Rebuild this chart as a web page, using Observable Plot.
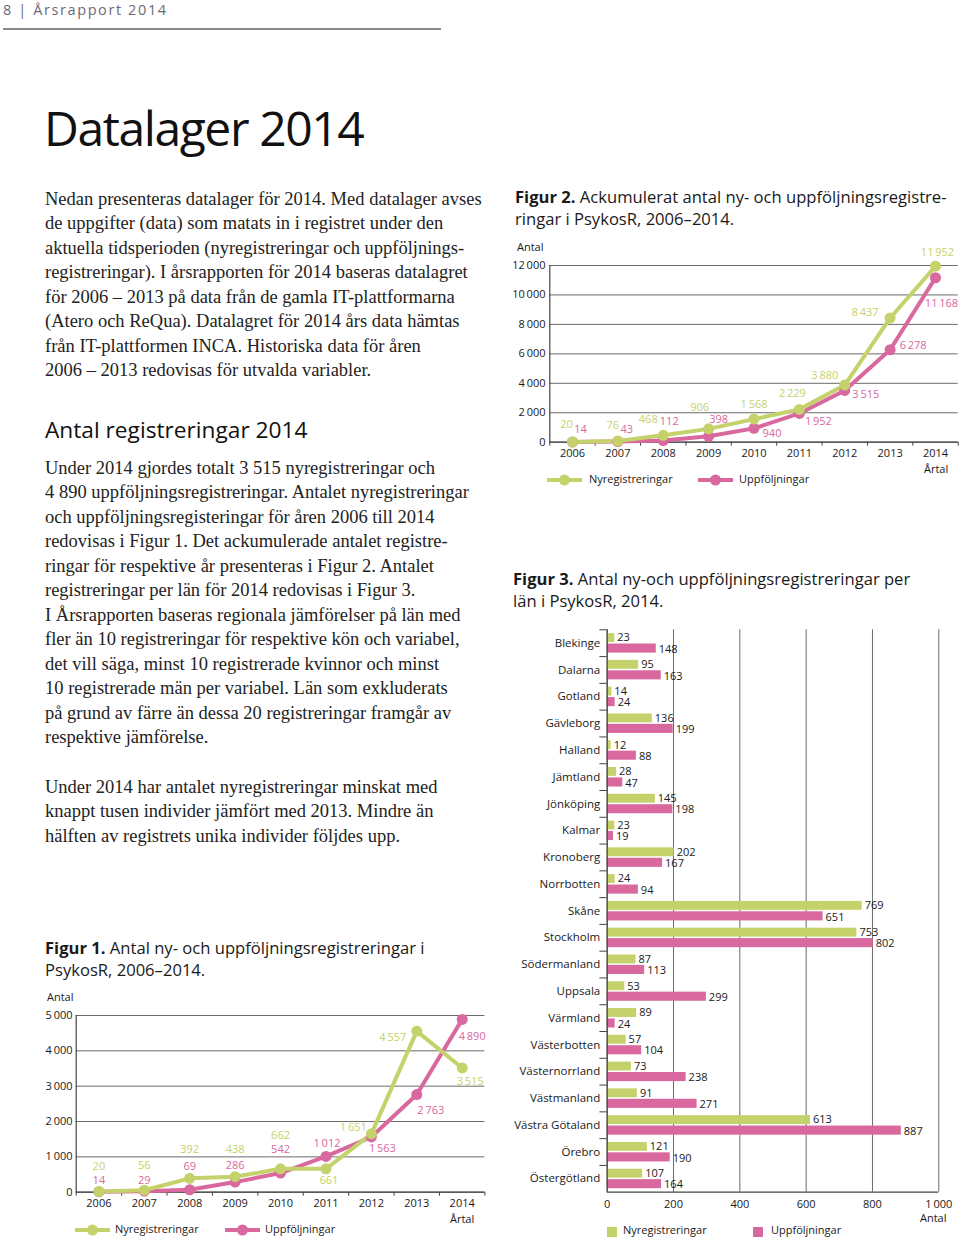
<!DOCTYPE html>
<html><head><meta charset="utf-8">
<script src="https://cdn.jsdelivr.net/npm/d3@7"></script>
<script src="https://cdn.jsdelivr.net/npm/@observablehq/plot@0.6"></script>
<style>
body{margin:0;background:#fff;}
#page{position:relative;width:960px;height:1243px;overflow:hidden;background:#fff;font-family:"Open Sans",sans-serif;color:#1a1a1a;}
.abs{position:absolute;white-space:nowrap;}
.serif{font-family:"Liberation Serif",serif;font-size:18.5px;line-height:24.45px;color:#222;}
.ftitle{font-size:16.6px;line-height:21.5px;color:#1a1a1a;}
.lab{font-size:11px;line-height:14px;color:#1a1a1a;}
.chart{position:absolute;}
.chart svg{display:block;overflow:visible;}
</style></head>
<body><div id="page">
<div class="abs" style="left:3px;top:0px;font-size:14.5px;line-height:20px;letter-spacing:1.6px;color:#6b6b78">8 | Årsrapport 2014</div>
<div class="abs" style="left:3px;top:28px;width:438px;height:1.6px;background:#8a8a8a"></div>
<div class="abs" style="left:44px;top:104px;font-size:48px;line-height:48px;letter-spacing:-1.4px;color:#111">Datalager 2014</div>

<div class="abs serif" style="left:45px;top:187px">Nedan presenteras datalager för 2014. Med datalager avses<br>de uppgifter (data) som matats in i registret under den<br>aktuella tidsperioden (nyregistreringar och uppföljnings-<br>registreringar). I årsrapporten för 2014 baseras datalagret<br>för 2006 – 2013 på data från de gamla IT-plattformarna<br>(Atero och ReQua). Datalagret för 2014 års data hämtas<br>från IT-plattformen INCA. Historiska data för åren<br>2006 – 2013 redovisas för utvalda variabler.</div>

<div class="abs" style="left:45px;top:415px;font-size:22.7px;line-height:30px;color:#111">Antal registreringar 2014</div>

<div class="abs serif" style="left:45px;top:456px">Under 2014 gjordes totalt 3 515 nyregistreringar och<br>4 890 uppföljningsregistreringar. Antalet nyregistreringar<br>och uppföljningsregisteringar för åren 2006 till 2014<br>redovisas i Figur 1. Det ackumulerade antalet registre-<br>ringar för respektive år presenteras i Figur 2. Antalet<br>registreringar per län för 2014 redovisas i Figur 3.<br>I Årsrapporten baseras regionala jämförelser på län med<br>fler än 10 registreringar för respektive kön och variabel,<br>det vill säga, minst 10 registrerade kvinnor och minst<br>10 registrerade män per variabel. Län som exkluderats<br>på grund av färre än dessa 20 registreringar framgår av<br>respektive jämförelse.</div>

<div class="abs serif" style="left:45px;top:775px">Under 2014 har antalet nyregistreringar minskat med<br>knappt tusen individer jämfört med 2013. Mindre än<br>hälften av registrets unika individer följdes upp.</div>

<!-- Figure titles -->
<div class="abs ftitle" style="left:45px;top:937px"><b>Figur 1.</b> Antal ny- och uppföljningsregistreringar i<br>PsykosR, 2006–2014.</div>
<div class="abs ftitle" style="left:515px;top:186px"><b>Figur 2.</b> Ackumulerat antal ny- och uppföljningsregistre-<br>ringar i PsykosR, 2006–2014.</div>
<div class="abs ftitle" style="left:513px;top:568px"><b>Figur 3.</b> Antal ny-och uppföljningsregistreringar per<br>län i PsykosR, 2014.</div>

<!-- axis titles -->
<div class="abs lab" style="left:47px;top:990px">Antal</div>
<div class="abs lab" style="left:450px;top:1212px">Årtal</div>
<div class="abs lab" style="left:517px;top:240px">Antal</div>
<div class="abs lab" style="left:924px;top:462px">Årtal</div>
<div class="abs lab" style="left:920px;top:1211px">Antal</div>

<div id="fig1" class="chart" style="left:40px;top:990px"></div>
<div id="fig2" class="chart" style="left:500px;top:240px"></div>
<div id="fig3" class="chart" style="left:505px;top:625px"></div>
<div id="legends"></div>
</div>
<script>
// ---------- data ----------
const years = [2006, 2007, 2008, 2009, 2010, 2011, 2012, 2013, 2014];
const series = ["Nyregistreringar", "Uppföljningar"];

// Figur 1: antal per år
const nyreg1 = [20, 56, 392, 438, 662, 661, 1651, 4557, 3515];
const uppf1  = [14, 29, 69, 286, 542, 1012, 1563, 2763, 4890];
const yTicks1 = [0, 1000, 2000, 3000, 4000, 5000];

// Figur 2: ackumulerat
const nyreg2 = [20, 76, 468, 906, 1568, 2229, 3880, 8437, 11952];
const uppf2  = [14, 43, 112, 398, 940, 1952, 3515, 6278, 11168];
const yTicks2 = [0, 2000, 4000, 6000, 8000, 10000, 12000];

// Figur 3: per län 2014
const regions = ["Blekinge", "Dalarna", "Gotland", "Gävleborg", "Halland", "Jämtland", "Jönköping", "Kalmar", "Kronoberg", "Norrbotten", "Skåne", "Stockholm", "Södermanland", "Uppsala", "Värmland", "Västerbotten", "Västernorrland", "Västmanland", "Västra Götaland", "Örebro", "Östergötland"];
const nyreg3 = [23, 95, 14, 136, 12, 28, 145, 23, 202, 24, 769, 753, 87, 53, 89, 57, 73, 91, 613, 121, 107];
const uppf3  = [148, 163, 24, 199, 88, 47, 198, 19, 167, 94, 651, 802, 113, 299, 24, 104, 238, 271, 887, 190, 164];
const xTicks3 = [0, 200, 400, 600, 800, 1000];

// ---------- styles ----------
const GREEN = "#c5d26b";
const PINK = "#d8689e";
const GRID = "#6b6b6b";
// value-label offsets (dx, dy) in pixels, per year
const off1 = {
  g: [[0,-25],[0,-25],[0,-29],[0,-27],[0,-33],[3,12],[-18,-6],[-24,6],[8,13]],
  p: [[0,-11],[0,-11],[0,-23],[0,-17],[0,-24],[1,-13],[11,12],[14,16],[10,17]]
};
const off2 = {
  g: [[-6,-17],[-5,-16],[-15,-16],[-9,-21],[0,-15],[-7,-16],[-20,-10],[-25,-5],[2,-14]],
  p: [[8,-13],[9,-12],[6,-19],[10,-17],[18,5],[19,8],[21,4],[23,-4],[6,26]]
};

const fmt = d => d3.format(",")(d).replace(/,/g, "\u2009");
const font = {fontFamily: "'Open Sans', sans-serif", fontSize: "11px", color: "#1a1a1a", background: "transparent", overflow: "visible"};

function lineChart(el, ny, up, yTicks, off, dims) {
  const data = [];
  years.forEach((yr, i) => data.push({year: yr, value: up[i], s: series[1], dx: off.p[i][0], dy: off.p[i][1]}));
  years.forEach((yr, i) => data.push({year: yr, value: ny[i], s: series[0], dx: off.g[i][0], dy: off.g[i][1]}));
  const bounds = years.map(y => y - 0.5).concat([years[years.length - 1] + 0.5]);
  const yMax = yTicks[yTicks.length - 1];
  const col = {[series[0]]: GREEN, [series[1]]: PINK};
  const chart = Plot.plot({
    width: dims.width, height: dims.height,
    marginLeft: dims.ml, marginRight: dims.mr, marginTop: dims.mt, marginBottom: dims.mb,
    x: {domain: [bounds[0], bounds[bounds.length - 1]], label: null},
    y: {domain: [0, yMax], label: null},
    style: font,
    marks: [
      Plot.gridY({ticks: yTicks, stroke: GRID, strokeOpacity: 1, strokeWidth: 1}),
      Plot.ruleY([0], {stroke: "#444", strokeWidth: 1.2}),
      Plot.ruleX([bounds[0]], {y1: 0, y2: yMax, stroke: "#444", strokeWidth: 1.2}),
      Plot.axisY({ticks: yTicks, tickSize: 0, tickPadding: dims.ypad, tickFormat: fmt, label: null}),
      Plot.axisX({ticks: years, tickSize: 0, tickPadding: 7.4, tickFormat: d => String(d), label: null}),
      Plot.axisX({ticks: bounds, tickSize: 4, tickFormat: () => "", label: null, stroke: "#444"}),
      ...series.slice().reverse().map(s => Plot.line(data.filter(d => d.s === s), {x: "year", y: "value", stroke: col[s], strokeWidth: 4})),
      ...series.slice().reverse().map(s => Plot.dot(data.filter(d => d.s === s), {x: "year", y: "value", fill: col[s], r: 5.5})),
      ...data.map(d => Plot.text([d], {x: "year", y: "value", text: d => fmt(d.value), fill: col[d.s], dx: d.dx, dy: d.dy, fontSize: 11}))
    ]
  });
  document.getElementById(el).appendChild(chart);
}

lineChart("fig1", nyreg1, uppf1, yTicks1, off1, {width: 455, height: 250, ml: 35.7, mr: 10.6, mt: 25, mb: 48.3, ypad: 3.7});
lineChart("fig2", nyreg2, uppf2, yTicks2, off2, {width: 460, height: 235, ml: 49.3, mr: 2.3, mt: 25, mb: 33.3, ypad: 4.3});

// Figur 3
{
  const data = regions.map((r, i) => ({region: r, ny: nyreg3[i], up: uppf3[i]}));
  const W = 450, H = 595, mt = 4.3, mb = 28.3;
  const bw = (H - mt - mb) / regions.length;
  const chart = Plot.plot({
    width: W, height: H,
    marginLeft: 101.7, marginRight: 16.7, marginTop: mt, marginBottom: mb,
    x: {domain: [0, 1000], label: null},
    y: {type: "band", domain: regions, padding: 0, round: false, label: null},
    style: font,
    marks: [
      Plot.gridX({ticks: xTicks3, stroke: GRID, strokeOpacity: 1, strokeWidth: 1}),
      Plot.barX(data, {y: "region", x: "ny", fill: GREEN, insetTop: 3.8, insetBottom: bw - 12.7}),
      Plot.barX(data, {y: "region", x: "up", fill: PINK, insetTop: 14.2, insetBottom: bw - 23.3}),
      Plot.text(data, {y: "region", x: "ny", text: d => String(d.ny), textAnchor: "start", dx: 2.5, dy: -5.3, fill: "#1a1a1a"}),
      Plot.text(data, {y: "region", x: "up", text: d => String(d.up), textAnchor: "start", dx: 2.5, dy: 6, fill: "#1a1a1a"}),
      Plot.ruleX([0], {stroke: "#444", strokeWidth: 1.2}),
      Plot.ruleY([regions[regions.length - 1]], {dy: bw / 2, x1: 0, x2: 1000, stroke: "#444", strokeWidth: 1.2}),
      Plot.ruleY(regions, {x1: -22, x2: 0, dy: -bw / 2, stroke: "#444", strokeWidth: 1}),
      Plot.axisY({tickSize: 0, tickPadding: 7, label: null, fontSize: 11.5}),
      Plot.axisX({ticks: xTicks3, tickSize: 0, tickPadding: 8.4, tickFormat: fmt, label: null})
    ]
  });
  document.getElementById("fig3").appendChild(chart);
}

// Legends
{
  const page = document.getElementById("page");
  function lineSwatch(x, y, color) {
    const ns = "http://www.w3.org/2000/svg";
    const svg = document.createElementNS(ns, "svg");
    svg.setAttribute("width", 36); svg.setAttribute("height", 12);
    svg.style.position = "absolute"; svg.style.left = x + "px"; svg.style.top = (y - 6) + "px";
    const l = document.createElementNS(ns, "line");
    l.setAttribute("x1", 0); l.setAttribute("x2", 35); l.setAttribute("y1", 6); l.setAttribute("y2", 6);
    l.setAttribute("stroke", color); l.setAttribute("stroke-width", 4);
    const c = document.createElementNS(ns, "circle");
    c.setAttribute("cx", 17.5); c.setAttribute("cy", 6); c.setAttribute("r", 5.5); c.setAttribute("fill", color);
    svg.appendChild(l); svg.appendChild(c); page.appendChild(svg);
  }
  function sqSwatch(x, y, color) {
    const d = document.createElement("div");
    d.className = "abs"; d.style.left = x + "px"; d.style.top = (y - 5) + "px";
    d.style.width = "10px"; d.style.height = "10px"; d.style.background = color;
    page.appendChild(d);
  }
  function label(x, y, t) {
    const d = document.createElement("div");
    d.className = "abs lab"; d.style.left = x + "px"; d.style.top = (y - 8.3) + "px";
    d.textContent = t; page.appendChild(d);
  }
  lineSwatch(75, 1230, GREEN); label(115, 1230, series[0]);
  lineSwatch(225, 1230, PINK); label(265, 1230, series[1]);
  lineSwatch(547, 480, GREEN); label(589, 480, series[0]);
  lineSwatch(698, 480, PINK); label(739, 480, series[1]);
  sqSwatch(607, 1231.5, GREEN); label(623, 1231.5, series[0]);
  sqSwatch(753, 1231.5, PINK); label(771, 1231.5, series[1]);
}
</script>
</body></html>
